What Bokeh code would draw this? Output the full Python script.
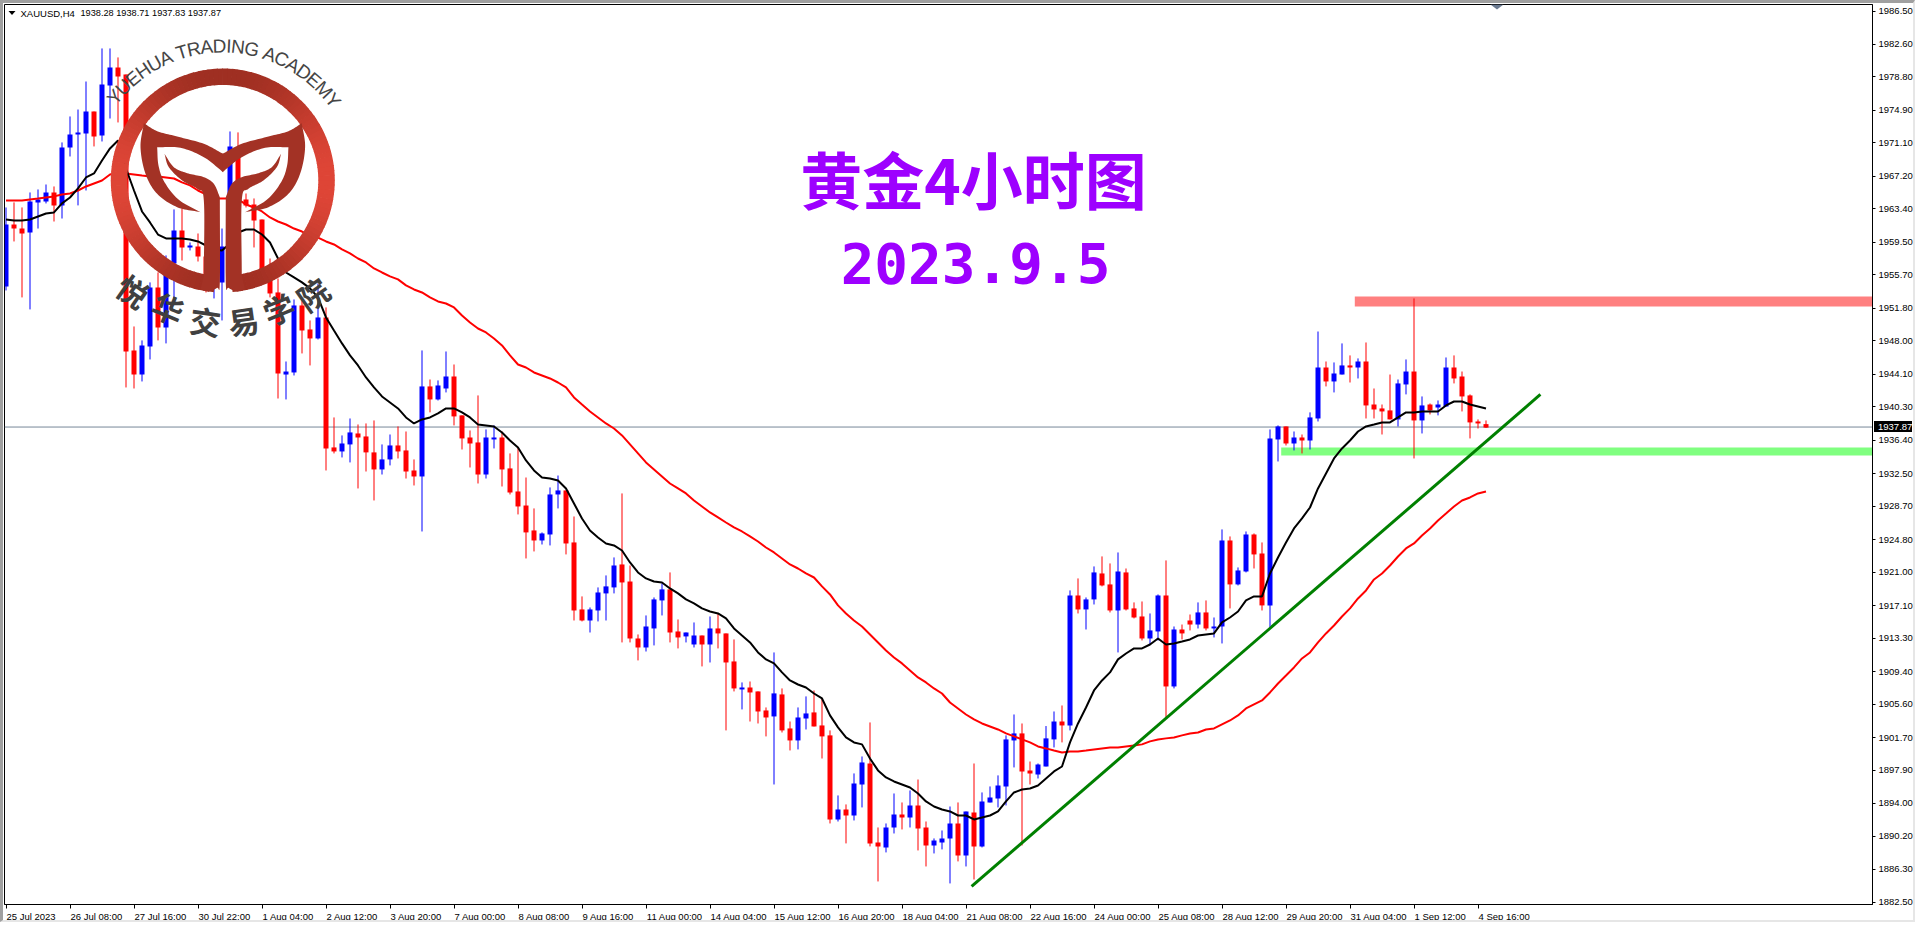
import math
import numpy as np
from bokeh.plotting import figure
from bokeh.models import FixedTicker, Range1d, NumeralTickFormatter, Div
from bokeh.core.properties import value
from bokeh.embed import file_html
from bokeh.resources import INLINE

highs = [
1963.57,1964.16,1963.57,1965.32,1965.67,1966.25,1966.02,1971.16,1974.19,1975.00,
1978.27,1974.77,1982.13,1982.13,1981.08,1979.09,1949.68,1948.05,1954.82,1955.98,
1957.97,1963.34,1963.46,1959.48,1960.53,1958.55,1958.78,1961.11,1972.44,1972.33,
1965.20,1964.62,1962.17,1957.61,1955.28,1945.59,1952.83,1952.71,1950.38,1954.70,
1951.90,1939.06,1936.96,1938.94,1938.24,1938.36,1938.71,1935.91,1937.07,1938.01,
1937.42,1934.16,1946.88,1943.49,1943.38,1946.76,1945.24,1939.30,1937.54,1941.63,
1937.66,1938.13,1937.42,1934.86,1935.56,1932.05,1928.44,1925.64,1930.89,1932.28,
1930.54,1927.50,1918.17,1916.88,1919.22,1920.62,1922.72,1930.19,1921.78,1913.73,
1915.95,1918.05,1919.69,1920.97,1915.48,1913.96,1915.13,1913.61,1915.83,1916.18,
1913.85,1913.15,1908.13,1908.24,1907.08,1905.21,1911.63,1907.43,1903.57,1905.21,
1906.50,1907.19,1906.26,1902.53,1894.94,1893.89,1897.51,1899.49,1903.46,1891.20,
1891.67,1895.17,1894.12,1895.52,1896.80,1891.90,1889.92,1890.85,1893.65,1894.12,
1893.07,1898.67,1895.29,1895.99,1897.28,1901.95,1904.39,1903.34,1898.90,1898.67,
1903.04,1904.74,1905.44,1918.87,1920.27,1918.05,1921.67,1922.84,1922.02,1923.30,
1921.43,1917.47,1917.58,1916.18,1918.40,1922.37,1914.66,1914.89,1916.06,1917.47,
1917.70,1915.71,1925.99,1925.17,1921.55,1925.75,1925.52,1924.47,1937.66,1938.13,
1938.01,1937.42,1937.07,1939.65,1949.09,1945.59,1945.48,1947.70,1946.30,1945.95,
1947.81,1942.44,1940.57,1944.07,1943.49,1945.83,1952.95,1941.51,1940.69,1941.04,
1946.06,1946.30,1944.42,1941.75,1938.83,1938.71]

opens = [
1954.35,1961.58,1961.11,1960.65,1964.16,1964.27,1965.32,1963.81,1970.57,1972.09,
1972.21,1974.77,1971.97,1977.81,1979.91,1979.09,1946.88,1944.07,1947.34,1954.23,
1949.56,1957.03,1960.88,1958.90,1959.02,1957.85,1954.70,1954.82,1959.02,1970.22,
1964.51,1963.92,1962.17,1956.22,1953.65,1944.07,1944.31,1952.13,1949.33,1948.28,
1950.73,1935.56,1935.09,1935.91,1937.19,1936.84,1934.98,1932.99,1934.16,1935.79,
1935.21,1932.87,1932.17,1942.68,1941.16,1942.44,1943.84,1939.30,1936.72,1936.14,
1932.40,1936.49,1936.72,1933.11,1930.42,1928.78,1925.87,1924.70,1925.40,1930.07,
1930.54,1924.47,1916.65,1915.36,1916.53,1918.52,1919.22,1921.90,1919.91,1913.26,
1912.21,1914.43,1917.70,1918.99,1914.08,1913.50,1912.56,1913.61,1912.56,1914.43,
1913.85,1910.58,1907.31,1907.54,1907.08,1904.86,1904.16,1906.73,1902.76,1901.36,
1903.92,1904.63,1903.11,1901.95,1892.14,1893.30,1892.60,1896.22,1898.67,1889.45,
1888.87,1891.20,1892.72,1892.37,1893.77,1891.20,1889.10,1889.45,1889.92,1891.67,
1887.94,1892.95,1888.99,1894.12,1894.59,1895.99,1901.36,1902.18,1897.86,1897.39,
1898.32,1901.48,1903.57,1903.11,1918.28,1916.65,1917.82,1920.85,1919.57,1916.53,
1920.97,1916.77,1915.83,1913.26,1914.08,1918.28,1907.66,1914.31,1915.36,1914.89,
1916.30,1914.43,1914.66,1924.70,1919.57,1921.08,1925.40,1923.18,1917.12,1936.49,
1938.01,1936.02,1936.72,1936.37,1938.94,1944.89,1943.26,1944.07,1945.13,1944.89,
1945.59,1940.57,1940.11,1939.88,1938.83,1942.91,1944.42,1938.71,1940.57,1940.22,
1940.34,1944.89,1943.84,1941.63,1938.59,1938.28]

closes = [
1961.58,1961.11,1960.53,1964.27,1964.51,1965.32,1963.81,1970.57,1972.09,1972.33,
1974.77,1971.86,1977.92,1979.91,1978.86,1946.76,1944.07,1947.46,1954.23,1949.56,
1956.45,1960.88,1958.90,1959.13,1957.85,1954.70,1958.55,1959.02,1970.69,1964.39,
1963.81,1962.05,1956.22,1953.53,1944.19,1944.42,1952.13,1949.21,1948.28,1950.73,
1935.44,1935.09,1936.02,1937.31,1936.72,1934.98,1932.99,1934.16,1935.79,1935.09,
1932.75,1932.17,1942.68,1941.16,1942.79,1943.84,1939.18,1936.61,1936.02,1932.40,
1936.72,1936.72,1932.99,1930.30,1928.67,1925.64,1924.70,1925.52,1930.07,1930.54,
1924.35,1916.53,1915.36,1916.65,1918.63,1919.34,1921.78,1919.80,1913.26,1912.21,
1914.66,1917.82,1918.99,1913.96,1913.38,1913.96,1913.61,1912.56,1914.43,1913.85,
1910.46,1907.43,1907.54,1906.96,1904.74,1904.04,1906.85,1902.53,1901.36,1904.04,
1904.51,1902.99,1901.83,1892.14,1893.30,1892.60,1896.34,1898.79,1889.34,1888.99,
1891.20,1892.72,1892.37,1893.77,1891.09,1889.10,1889.69,1889.92,1891.67,1887.94,
1893.07,1888.99,1894.24,1894.70,1896.11,1901.48,1902.18,1897.74,1897.51,1898.55,
1901.60,1903.57,1903.11,1918.28,1916.65,1917.82,1920.97,1919.45,1916.53,1921.08,
1916.65,1915.71,1913.26,1914.20,1918.28,1907.66,1914.31,1913.85,1914.89,1916.30,
1914.43,1914.66,1924.70,1919.57,1921.20,1925.40,1923.07,1917.12,1936.61,1938.01,
1936.02,1936.72,1936.37,1939.06,1944.89,1943.26,1944.19,1945.13,1944.89,1945.59,
1940.46,1939.99,1939.76,1938.83,1943.03,1944.42,1938.71,1940.46,1939.88,1940.57,
1944.89,1943.61,1941.51,1938.48,1938.36,1937.87]

lows = [
1953.88,1959.60,1953.07,1951.67,1961.11,1964.04,1961.93,1962.28,1969.52,1963.81,
1965.55,1970.69,1971.27,1973.95,1973.49,1942.56,1942.44,1943.26,1945.83,1948.05,
1947.70,1952.95,1957.38,1958.55,1957.26,1953.65,1952.95,1950.38,1958.55,1963.81,
1963.57,1958.90,1955.98,1953.07,1941.27,1941.16,1943.96,1946.53,1945.13,1948.16,
1932.87,1934.86,1934.39,1933.81,1930.77,1932.75,1929.37,1932.40,1933.46,1934.27,
1931.93,1931.12,1925.75,1939.65,1941.04,1941.98,1938.13,1935.32,1933.22,1931.35,
1931.93,1935.44,1931.00,1930.07,1927.74,1922.60,1923.42,1924.23,1924.12,1928.44,
1923.07,1915.36,1915.25,1913.96,1915.25,1915.36,1918.52,1912.80,1912.80,1910.70,
1911.74,1912.45,1915.95,1912.80,1912.10,1912.80,1912.21,1910.00,1910.46,1912.10,
1902.53,1907.08,1904.98,1903.57,1903.34,1901.83,1896.22,1902.29,1900.19,1900.31,
1902.64,1902.99,1899.25,1891.67,1891.90,1889.34,1892.02,1893.54,1888.99,1884.90,
1888.29,1890.50,1890.97,1891.20,1888.52,1886.65,1888.17,1888.64,1884.67,1887.24,
1886.65,1885.13,1888.87,1894.12,1893.54,1893.77,1898.21,1889.10,1896.22,1896.92,
1898.32,1900.54,1901.13,1902.53,1916.18,1914.31,1917.23,1919.34,1916.30,1911.63,
1916.53,1915.60,1913.03,1912.56,1913.03,1904.04,1907.43,1913.15,1914.20,1914.43,
1914.20,1913.38,1912.68,1916.77,1919.45,1920.97,1921.43,1916.53,1914.54,1933.92,
1935.79,1935.21,1934.86,1935.32,1938.59,1942.68,1941.98,1944.07,1943.14,1943.61,
1938.94,1938.94,1937.07,1938.83,1938.01,1941.75,1934.27,1937.19,1939.41,1939.30,
1940.34,1943.03,1939.76,1936.61,1937.77,1937.83]

ma_black = [
1962.17,1962.05,1962.05,1962.17,1962.52,1962.87,1962.99,1964.04,1964.73,1965.79,
1967.07,1967.54,1969.05,1970.46,1971.39,1968.12,1965.55,1963.10,1961.82,1960.41,
1959.95,1959.95,1959.95,1959.83,1959.60,1959.13,1958.67,1958.55,1959.37,1960.65,
1961.00,1961.00,1960.41,1959.48,1957.61,1955.98,1955.40,1954.82,1954.12,1953.07,
1950.73,1949.21,1947.70,1946.30,1945.13,1943.73,1942.56,1941.51,1940.81,1940.11,
1939.06,1938.36,1938.83,1939.06,1939.53,1940.11,1940.11,1939.65,1939.06,1938.24,
1938.13,1938.01,1937.31,1936.37,1935.56,1934.04,1932.87,1932.05,1931.93,1931.70,
1930.77,1929.02,1927.27,1925.87,1925.05,1924.35,1924.12,1923.53,1922.13,1920.97,
1920.27,1919.91,1919.80,1919.10,1918.52,1917.82,1917.35,1916.77,1916.41,1916.18,
1915.60,1914.43,1913.61,1912.80,1911.63,1910.82,1910.35,1909.30,1908.36,1907.89,
1907.54,1906.84,1906.26,1904.28,1902.88,1901.71,1901.13,1900.90,1899.25,1897.86,
1897.04,1896.57,1896.22,1895.87,1895.17,1894.24,1893.65,1893.30,1893.07,1892.60,
1892.60,1892.14,1892.37,1892.60,1893.07,1894.24,1895.29,1895.64,1895.75,1896.10,
1896.92,1897.74,1898.32,1901.13,1903.34,1905.21,1907.19,1908.36,1909.30,1910.82,
1911.51,1912.10,1912.10,1912.56,1913.26,1912.56,1912.68,1912.91,1913.15,1913.61,
1913.73,1913.85,1915.13,1915.71,1916.41,1917.70,1918.17,1918.17,1920.85,1922.72,
1924.47,1926.10,1927.27,1928.55,1930.77,1932.52,1934.27,1935.44,1936.37,1937.42,
1938.01,1938.24,1938.48,1938.48,1939.06,1939.65,1939.65,1939.76,1939.76,1939.76,
1940.46,1940.92,1940.92,1940.57,1940.34,1940.11]

ma_red = [
1964.39,1964.39,1964.39,1964.51,1964.62,1964.74,1964.86,1965.09,1965.20,1965.55,
1966.02,1966.37,1966.72,1967.42,1967.65,1967.54,1967.42,1967.30,1967.19,1967.19,
1967.07,1966.95,1966.49,1966.14,1965.55,1965.09,1964.62,1964.62,1964.62,1964.51,
1963.92,1963.57,1963.10,1962.40,1961.93,1961.58,1961.11,1960.76,1960.30,1960.06,
1959.60,1959.25,1958.67,1958.20,1957.61,1957.15,1956.45,1955.98,1955.52,1955.17,
1954.47,1954.00,1953.65,1953.07,1952.60,1952.36,1951.90,1950.96,1950.15,1949.44,
1948.98,1948.28,1947.46,1946.30,1945.24,1944.89,1944.31,1943.96,1943.61,1943.14,
1942.56,1941.39,1940.57,1939.76,1939.06,1938.36,1937.77,1936.96,1935.91,1934.86,
1933.81,1932.99,1932.17,1931.35,1930.77,1930.19,1929.37,1928.67,1927.97,1927.39,
1926.80,1926.22,1925.75,1925.17,1924.58,1923.88,1923.30,1922.60,1921.90,1921.43,
1920.85,1920.38,1919.34,1918.40,1917.12,1916.18,1915.36,1914.66,1913.73,1912.80,
1911.86,1911.04,1910.35,1909.53,1908.71,1908.13,1907.43,1906.84,1905.79,1905.09,
1904.39,1903.81,1903.34,1902.99,1902.64,1902.18,1901.83,1901.48,1901.13,1900.66,
1900.43,1900.19,1899.96,1900.08,1900.08,1900.19,1900.31,1900.43,1900.54,1900.54,
1900.66,1900.78,1900.90,1901.25,1901.48,1901.60,1901.71,1901.95,1902.18,1902.29,
1902.64,1902.76,1903.23,1903.69,1904.28,1905.09,1905.56,1906.03,1906.96,1908.01,
1908.94,1909.88,1910.93,1911.63,1912.80,1913.85,1914.78,1915.83,1916.77,1917.93,
1918.87,1920.15,1920.85,1921.78,1922.83,1923.77,1924.35,1925.28,1926.10,1927.04,
1927.85,1928.67,1929.37,1929.72,1930.19,1930.42]

time_labels = ["25 Jul 2023","26 Jul 08:00","27 Jul 16:00","30 Jul 22:00","1 Aug 04:00","2 Aug 12:00",
               "3 Aug 20:00","7 Aug 00:00","8 Aug 08:00","9 Aug 16:00","11 Aug 00:00","14 Aug 04:00",
               "15 Aug 12:00","16 Aug 20:00","18 Aug 04:00","21 Aug 08:00","22 Aug 16:00","24 Aug 00:00",
               "25 Aug 08:00","28 Aug 12:00","29 Aug 20:00","31 Aug 04:00","1 Sep 12:00","4 Sep 16:00"]
price_ticks = [1986.50,1982.60,1978.80,1974.90,1971.10,1967.20,1963.40,1959.50,1955.70,1951.80,1948.00,
               1944.10,1940.30,1936.40,1932.50,1928.70,1924.80,1921.00,1917.10,1913.30,1909.40,1905.60,
               1901.70,1897.90,1894.00,1890.20,1886.30,1882.50]
last_price = "1937.87"
last_price_line = 1937.94
trend_bars = [120.7, 191.8]
trend_prices = [1884.32, 1941.74]
resistance = [1953.18, 1952.02]
resistance_from = 168.6
support = [1935.56, 1934.63]
support_from = 159.4

# ---- layout of the page (coordinates below are page pixels) ----
W, H = 1920, 927
BL, BT, BR, BB = 3, 3, 2, 2          # window border drawn with CSS
L, R, T, B = 4, 1872, 4, 904         # plot frame on the page
PX_PER_BAR = 8.0
PRICE_PER_PX = 0.11672
fx = lambda px: (np.asarray(px, dtype=float) - 5.5) / PX_PER_BAR
fy = lambda py: 1986.5 - (np.asarray(py, dtype=float) - 10.5) * PRICE_PER_PX

# bokeh counts the CSS border on top of the content size, so it is taken off twice here
p = figure(width=W - 2 * (BL + BR), height=H - 2 * (BT + BB), output_backend="svg", toolbar_location=None,
           x_range=Range1d(float(fx(L)), float(fx(R))), y_range=Range1d(float(fy(B)), float(fy(T))),
           y_axis_location="right", min_border_left=L - BL, min_border_top=T - BT,
           min_border_right=W - BR - R, min_border_bottom=H - BB - B)
p.styles = {"position": "absolute", "left": "0px", "top": "0px", "box-sizing": "content-box",
            "border-top": f"{BT}px solid #a0a0a0", "border-left": f"{BL}px solid #a0a0a0",
            "border-right": f"{BR}px solid #e6e6e6", "border-bottom": f"{BB}px solid #e6e6e6"}
p.grid.visible = False
p.outline_line_color = "black"
p.background_fill_color = "white"
p.border_fill_color = "white"

AXFONT = "Liberation Sans"
AXSIZE = "9.5px"
for ax in (p.xaxis[0], p.yaxis[0]):
    ax.axis_line_color = "black"
    ax.major_tick_line_color = "black"
    ax.minor_tick_line_color = None
    ax.major_tick_in = 0
    ax.major_tick_out = 3
    ax.major_label_text_font = AXFONT
    ax.major_label_text_font_size = AXSIZE
    ax.major_label_text_color = "black"
p.yaxis[0].ticker = FixedTicker(ticks=price_ticks)
p.yaxis[0].formatter = NumeralTickFormatter(format="0.00")
p.yaxis[0].major_label_standoff = 3

# time axis: the tick marks sit at the bar, each label is set to start at its mark,
# so marks are the axis's minor ticks and labels hang on majors moved by half their width
x_ticks = [i * 8 for i in range(len(time_labels))]
CH = {" ": .278, ":": .278, "J": .5, "u": .556, "l": .222, "A": .667, "g": .556, "S": .667, "e": .556, "p": .556}
def text_px(s):
    return sum(CH.get(c, .556) for c in s) * 9.5

label_pos = [t + (text_px(s) / 2 + 0.5) / PX_PER_BAR for t, s in zip(x_ticks, time_labels)]
xa = p.xaxis[0]
xa.ticker = FixedTicker(ticks=label_pos, minor_ticks=x_ticks)
xa.major_label_overrides = dict(zip(label_pos, time_labels))
xa.major_tick_line_color = None
xa.major_tick_out = 4
xa.minor_tick_line_color = "black"
xa.minor_tick_in = 0
xa.minor_tick_out = 4
xa.major_label_standoff = 2

idx = np.arange(len(opens))
is_up = np.array(closes) >= np.array(opens)
colors = ["#0000ff" if u else "#ff0000" for u in is_up]
far_right = float(fx(R))

# zones and last-price line sit under the candles
p.quad(left=resistance_from, right=far_right, top=resistance[0], bottom=resistance[1],
       fill_color="#ff8080", line_color=None)
p.quad(left=support_from, right=far_right, top=support[0], bottom=support[1],
       fill_color="#80ff80", line_color=None)
p.segment(x0=[float(fx(L))], x1=[far_right], y0=[last_price_line], y1=[last_price_line],
          line_color="#778899", line_width=1)

p.segment(x0=idx, x1=idx, y0=lows, y1=highs, line_color=colors, line_width=1)
p.vbar(x=idx, width=5 / PX_PER_BAR, top=np.maximum(opens, closes), bottom=np.minimum(opens, closes),
       fill_color=colors, line_color=None)
p.line(idx, ma_red, line_color="#ff0000", line_width=2)
p.line(idx, ma_black, line_color="#000000", line_width=2)
p.line(trend_bars, trend_prices, line_color="#008000", line_width=3)

# ---- logo ----
CX, CY, RO, RI = 222.3, 180.0, 112.0, 95.5
LOGO = "#a33225"

def mix(t):
    a, b = (0x9f, 0x2f, 0x22), (0xdf, 0x46, 0x37)
    return "#%02x%02x%02x" % tuple(int(a[k] + (b[k] - a[k]) * t) for k in range(3))

starts = np.radians(np.arange(275, 275 + 350, 2.5))
ends = starts + np.radians(2.9)
ring_cols = [mix(abs(math.cos(s + math.radians(1.25))) ** 2.4) for s in starts]
p.annular_wedge(x=[float(fx(CX))] * len(starts), y=[float(fy(CY))] * len(starts),
                inner_radius=RI, outer_radius=RO, inner_radius_units="screen", outer_radius_units="screen",
                start_angle=starts, end_angle=ends, fill_color=ring_cols, line_color=None)

def spline(pts, n=12):
    pts = np.array(pts, dtype=float)
    q = np.vstack([2 * pts[0] - pts[1], pts, 2 * pts[-1] - pts[-2]])
    out = []
    for i in range(1, len(q) - 2):
        for t in np.linspace(0, 1, n, endpoint=False):
            out.append(0.5 * ((2 * q[i]) + (-q[i - 1] + q[i + 1]) * t +
                              (2 * q[i - 1] - 5 * q[i] + 4 * q[i + 1] - q[i + 2]) * t * t +
                              (-q[i - 1] + 3 * q[i] - 3 * q[i + 1] + q[i + 2]) * t ** 3))
    out.append(pts[-1])
    return out

crescent = (spline([(430, 368), (470, 392), (530, 408), (610, 430), (668, 460)]) +
            spline([(668, 515), (610, 470), (540, 442), (470, 440)]) +
            spline([(470, 440), (474, 495), (492, 545), (535, 598), (600, 635)]) +
            spline([(600, 635), (530, 620), (470, 580), (435, 520), (420, 440), (430, 368)]))
stem = (spline([(492, 460), (520, 500), (560, 518), (610, 530), (640, 550), (658, 590)]) +
        spline([(658, 590), (658, 845), (650, 862), (625, 872), (600, 866)], n=6) +
        spline([(610, 825), (610, 600), (590, 565), (545, 540), (505, 500), (492, 460)]))
for shape in (crescent, stem):
    s = np.array(shape) / 3.0
    for mirror in (False, True):
        xs = 2 * CX - s[:, 0] if mirror else s[:, 0]
        p.patch(fx(xs), fy(s[:, 1]), fill_color=LOGO, line_color=None)

# arc texts of the logo
arc_text = "YUEHUA TRADING ACADEMY"
adv = {"Y": .667, "U": .722, "E": .667, "H": .722, "A": .667, " ": .278, "T": .611, "R": .722, "D": .722,
       "I": .278, "N": .722, "G": .778, "C": .722, "M": .833}
total = sum(adv[c] for c in arc_text)
TH = math.radians(108.0)
OFF = math.radians(0.9)
cum = 0.0
for c in arc_text:
    th = -TH / 2 + (cum + adv[c] / 2) / total * TH + OFF
    cum += adv[c]
    if c == " ":
        continue
    px_ = 222.0 + 139.5 * math.sin(th)
    py_ = 185.0 - 139.5 * math.cos(th)
    p.text(x=[float(fx(px_))], y=[float(fy(py_))], text=[c], angle=[-th], text_align="center",
           text_baseline="middle", text_font=value("Liberation Sans"), text_font_size="19px",
           text_color="#454545")

zh_chars = ["悦", "华", "交", "易", "学", "院"]
zh_xy = [(133, 290), (168, 307), (205, 320), (243, 320), (278, 308), (312, 293)]
zh_ang = [-35, -22, -8, 8, 22, 35]
for ch, (a, b), ang in zip(zh_chars, zh_xy, zh_ang):
    p.text(x=[float(fx(a))], y=[float(fy(b))], text=[ch], angle=[math.radians(ang)], text_align="center",
           text_baseline="middle", text_font=value("Noto Sans CJK SC"), text_font_style="bold",
           text_font_size="31px", text_color="#404040")

# ---- titles ----
p.text(x=[float(fx(973))], y=[float(fy(177))], text=["黄金4小时图"], text_align="center", text_baseline="middle",
       text_font=value("Noto Sans CJK SC"), text_font_style="bold", text_font_size="62px", text_color="#9d00ff")
p.text(x=[float(fx(975))], y=[float(fy(262))], text=["2023.9.5"], text_align="center", text_baseline="middle",
       text_font=value("DejaVu Sans Mono"), text_font_style="bold", text_font_size="56px", text_color="#9d00ff")

# ---- header ----
p.patch(fx([8, 15, 11.5]), fy([10.5, 10.5, 14.5]), fill_color="black", line_color=None)
p.text(x=[float(fx(20))], y=[float(fy(12.5))], text=["XAUUSD,H4"], text_align="left", text_baseline="middle",
       text_font=value(AXFONT), text_font_size=AXSIZE, text_color="black")
p.text(x=[float(fx(80))], y=[float(fy(12.5))], text=["1938.28 1938.71 1937.83 1937.87"], text_align="left",
       text_baseline="middle", text_font=value(AXFONT), text_font_size="9.2px", text_color="black")
# shift marker on the top edge
p.patch(fx([1490, 1503, 1496.5]), fy([4, 4, 9]), fill_color="#6b7a90", line_color=None)

# ---- current price tag, outside the frame so it is a DOM element on the figure ----
tag = Div(text=last_price, width=37, height=11,
          styles={"position": "absolute", "left": f"{1874 - BL}px", "top": f"{421 - BT}px",
                  "background-color": "black", "color": "white", "font-family": AXFONT,
                  "font-size": "9.5px", "line-height": "11px", "padding-left": "4px", "z-index": "5"})
p.elements = [tag]

open("out.html", "w").write(file_html(p, INLINE))
